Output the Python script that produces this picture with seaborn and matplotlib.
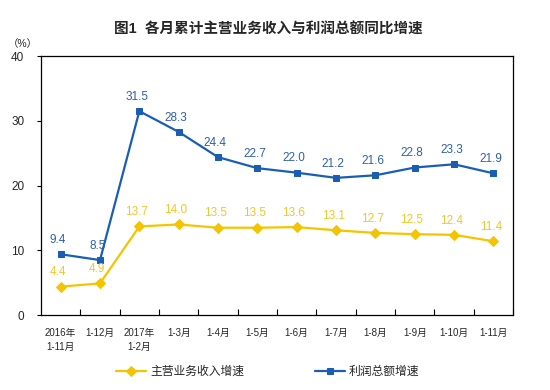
import numpy as np
import pandas as pd
import matplotlib
matplotlib.use("Agg")
import matplotlib.pyplot as plt
import seaborn as sns

# data
periods = ["2016年\n1-11月", "1-12月", "2017年\n1-2月", "1-3月", "1-4月", "1-5月",
           "1-6月", "1-7月", "1-8月", "1-9月", "1-10月", "1-11月"]
revenue_growth = [4.4, 4.9, 13.7, 14.0, 13.5, 13.5, 13.6, 13.1, 12.7, 12.5, 12.4, 11.4]
profit_growth = [9.4, 8.5, 31.5, 28.3, 24.4, 22.7, 22.0, 21.2, 21.6, 22.8, 23.3, 21.9]
revenue_name = "主营业务收入增速"
profit_name = "利润总额增速"

YELLOW = "#F5C400"
YELLOW_TXT = "#F2C62A"
BLUE = "#1A5EB4"
BLUE_TXT = "#2E5FA8"

sns.set_theme(style="ticks")
plt.rcParams["font.family"] = ["Liberation Sans", "Noto Sans CJK SC", "DejaVu Sans"]

df = pd.DataFrame({
    "idx": np.arange(len(periods)),
    revenue_name: revenue_growth,
    profit_name: profit_growth,
})

fig = plt.figure(figsize=(5.5, 3.9), dpi=100)
ax = fig.add_axes([0.0745, 0.192, 0.8585, 0.664])

sns.lineplot(data=df, x="idx", y=revenue_name, ax=ax, color=YELLOW, marker="D",
             markersize=5, markeredgecolor=YELLOW, linewidth=1.6, label=revenue_name)
sns.lineplot(data=df, x="idx", y=profit_name, ax=ax, color=BLUE, marker="s",
             markersize=4.5, markeredgecolor=BLUE, linewidth=1.6, label=profit_name)

for i, v in enumerate(revenue_growth):
    ax.annotate(f"{v:.1f}", (i, v), xytext=(-2, 6), textcoords="offset points",
                ha="center", va="bottom", color=YELLOW_TXT, fontsize=8.5)
for i, v in enumerate(profit_growth):
    ax.annotate(f"{v:.1f}", (i, v), xytext=(-2, 6), textcoords="offset points",
                ha="center", va="bottom", color=BLUE_TXT, fontsize=8.5)

ax.set_xlim(-0.5, len(periods) - 0.5)
ax.set_ylim(0, 40)
ax.set_yticks([0, 10, 20, 30, 40])
ax.set_xticks(np.arange(len(periods)))
ax.set_xticklabels(periods, fontsize=7, linespacing=1.6)
ax.set_xticks(np.arange(len(periods)) + 0.5, minor=True)
ax.tick_params(axis="x", which="major", length=0, pad=9)
ax.tick_params(axis="x", which="minor", direction="in", length=4, width=0.8, color="black")
ax.tick_params(axis="y", labelsize=8.5, length=3, width=0.8, color="black", pad=9)
ax.set_xlabel("")
ax.set_ylabel("")
for s in ax.spines.values():
    s.set_color("black")
    s.set_linewidth(0.9)

fig.text(0.042, 0.887, "（%）", fontsize=7.5, ha="center", va="center")
fig.text(0.488, 0.925, "图1  各月累计主营业务收入与利润总额同比增速", fontsize=10.5,
         fontweight="bold", ha="center", va="center")

ax.legend(loc="center", bbox_to_anchor=(0.48, -0.22), ncol=2, frameon=False,
          fontsize=8.5, handlelength=2.6, columnspacing=6, handletextpad=0.3)

fig.savefig("out.png", dpi=100)
